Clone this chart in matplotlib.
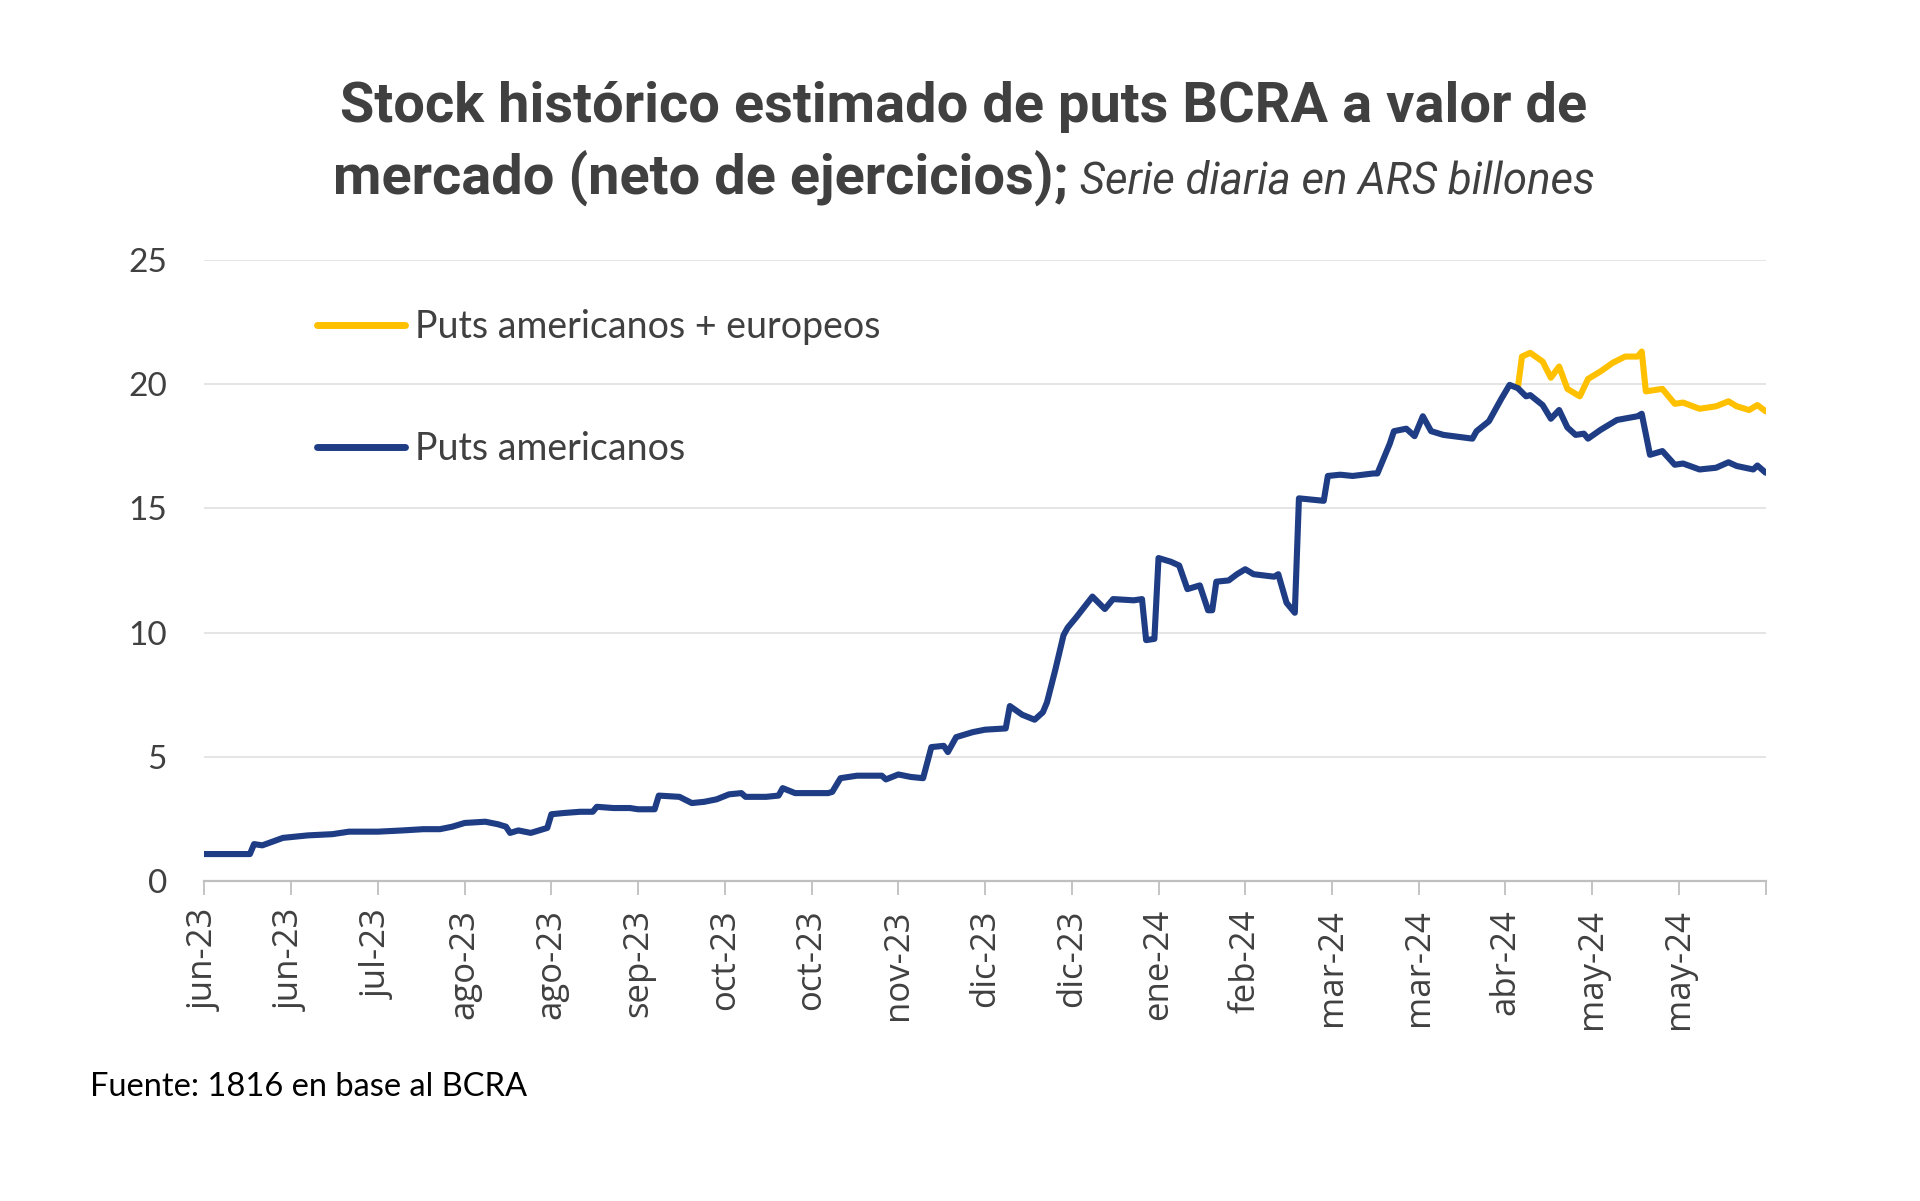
import matplotlib
matplotlib.use("Agg")
import matplotlib.pyplot as plt
from matplotlib.lines import Line2D

# ---------------- data ----------------
tick_labels = ["jun-23", "jun-23", "jul-23", "ago-23", "ago-23", "sep-23", "oct-23",
               "oct-23", "nov-23", "dic-23", "dic-23", "ene-24", "feb-24", "mar-24",
               "mar-24", "abr-24", "may-24", "may-24", ""]
tick_days = [21 * i for i in range(19)]

days_am = [0, 11, 12, 14, 19, 25, 31, 35, 42, 48, 53, 57, 60, 63, 68, 71, 73, 74, 76, 79,
           82, 83, 84, 87, 91, 94, 95, 99, 103, 105, 109, 110, 115, 118, 121, 124, 127, 130,
           131, 136, 139, 140, 143, 151, 152, 154, 158, 164, 165, 168, 171, 174, 176, 179,
           180, 182, 186, 189, 194, 195, 198, 201, 203, 204, 206, 208, 209, 211, 215, 218,
           220, 225, 227, 228, 230, 231, 234, 236, 238, 241, 243, 244, 245, 248, 250, 252,
           254, 259, 260, 262, 264, 265, 268, 271, 272, 275, 278, 283, 284, 287, 288, 291,
           293, 295, 297, 300, 307, 308, 311, 314, 316, 318, 320, 321, 324, 326, 328, 330,
           332, 334, 335, 338, 342, 347, 348, 350, 353, 356, 358, 362, 366, 369, 371, 375,
           376, 378]
puts_am = [1.1, 1.1, 1.5, 1.45, 1.75, 1.85, 1.9, 2.0, 2.0, 2.05, 2.1, 2.1, 2.2, 2.35, 2.4,
           2.3, 2.2, 1.95, 2.05, 1.95, 2.1, 2.15, 2.7, 2.75, 2.8, 2.8, 3.0, 2.95, 2.95, 2.9,
           2.9, 3.45, 3.4, 3.15, 3.2, 3.3, 3.5, 3.55, 3.4, 3.4, 3.45, 3.75, 3.55, 3.55, 3.6,
           4.15, 4.25, 4.25, 4.1, 4.3, 4.2, 4.15, 5.4, 5.45, 5.2, 5.8, 6.0, 6.1, 6.15, 7.05,
           6.7, 6.5, 6.8, 7.2, 8.5, 9.9, 10.2, 10.6, 11.45, 10.95, 11.35, 11.3, 11.35, 9.7,
           9.75, 13.0, 12.85, 12.7, 11.75, 11.9, 10.9, 10.9, 12.05, 12.1, 12.35, 12.55, 12.35,
           12.25, 12.35, 11.2, 10.8, 15.4, 15.35, 15.3, 16.3, 16.35, 16.3, 16.4, 16.4, 17.6,
           18.1, 18.2, 17.9, 18.7, 18.1, 17.95, 17.8, 18.1, 18.5, 19.4, 19.96, 19.83, 19.5,
           19.55, 19.15, 18.6, 18.95, 18.25, 17.95, 18.0, 17.8, 18.15, 18.55, 18.7, 18.8,
           17.15, 17.3, 16.75, 16.8, 16.56, 16.63, 16.85, 16.7, 16.56, 16.72, 16.43]

days_ae = [318, 319, 321, 324, 326, 328, 330, 333, 335, 338, 341, 344, 347, 348, 349, 353,
           356, 358, 362, 366, 369, 371, 374, 376, 378]
puts_ae = [19.83, 21.1, 21.25, 20.9, 20.25, 20.7, 19.8, 19.5, 20.2, 20.5, 20.85, 21.1, 21.1,
           21.3, 19.7, 19.8, 19.2, 19.25, 19.0, 19.1, 19.3, 19.1, 18.95, 19.15, 18.9]

yticks = [0, 5, 10, 15, 20, 25]

# ---------------- style ----------------
BLUE = "#1f3d85"
YELLOW = "#ffc000"
GREY_TXT = "#404040"

fig = plt.figure(figsize=(19.2, 12.01), dpi=100)
ax = fig.add_axes([0.1065, 0.2661, 0.8131, 0.5178])

ax.plot(days_ae, puts_ae, color=YELLOW, lw=4.4, solid_joinstyle="round",
        solid_capstyle="round", label="Puts americanos + europeos", zorder=3)
ax.plot(days_am, puts_am, color=BLUE, lw=4.4, solid_joinstyle="round",
        solid_capstyle="round", label="Puts americanos", zorder=4)

ax.set_xlim(tick_days[0], tick_days[-1])
ax.set_ylim(0, 25)
ax.set_yticks(yticks)
ax.set_yticklabels([str(v) for v in yticks], family="Lato", fontsize=24, color=GREY_TXT)
ax.set_xticks(tick_days)
ax.set_xticklabels(tick_labels, rotation=90, family="Open Sans", fontsize=25,
                   color=GREY_TXT, va="top", ha="center")
ax.tick_params(axis="y", length=0, pad=27)
ax.tick_params(axis="x", length=10, width=1.3, color="#bfbfbf", pad=10, direction="out")

for s in ["top", "right", "left"]:
    ax.spines[s].set_visible(False)
ax.spines["bottom"].set_color("#bfbfbf")
ax.spines["bottom"].set_linewidth(1.6)

for v in yticks[1:]:
    ax.axhline(v, color="#e3e3e3", lw=1.3, zorder=1)

handles = [Line2D([], [], color=YELLOW, lw=5, solid_capstyle="round"),
           Line2D([], [], color=BLUE, lw=5, solid_capstyle="round")]
leg = ax.legend(handles, ["Puts americanos + europeos", "Puts americanos"],
                loc="upper left", bbox_to_anchor=(0.072, 0.921), frameon=False,
                prop={"family": "Lato", "size": 27}, handlelength=2.35,
                handletextpad=0.27, labelspacing=2.3, borderpad=0, borderaxespad=0)
for t in leg.get_texts():
    t.set_color(GREY_TXT)

# ---------------- titles ----------------
fig.text(0.502, 0.911, "Stock histórico estimado de puts BCRA a valor de",
         ha="center", va="center", family="Roboto", weight="bold", fontsize=40.3,
         color=GREY_TXT)

fig.canvas.draw()
r = fig.canvas.get_renderer()
t_b = fig.text(0, 0.852, "mercado (neto de ejercicios);", ha="left", va="center",
               family="Roboto", weight="bold", fontsize=40.3, color=GREY_TXT)
t_i = fig.text(0, 0.852, " Serie diaria en ARS billones", ha="left", va="center",
               family="Roboto", style="italic", fontsize=31.5, color=GREY_TXT)
wb = t_b.get_window_extent(r).width / fig.bbox.width
wi = t_i.get_window_extent(r).width / fig.bbox.width
x0 = 0.502 - (wb + wi) / 2
t_b.set_x(x0)
t_i.set_x(x0 + wb)
t_i.set_y(0.849)

fig.text(0.047, 0.095, "Fuente: 1816 en base al BCRA", ha="left", va="center",
         family="Lato", fontsize=23.5, color="black")

fig.savefig("out.png", dpi=100, facecolor="white")
